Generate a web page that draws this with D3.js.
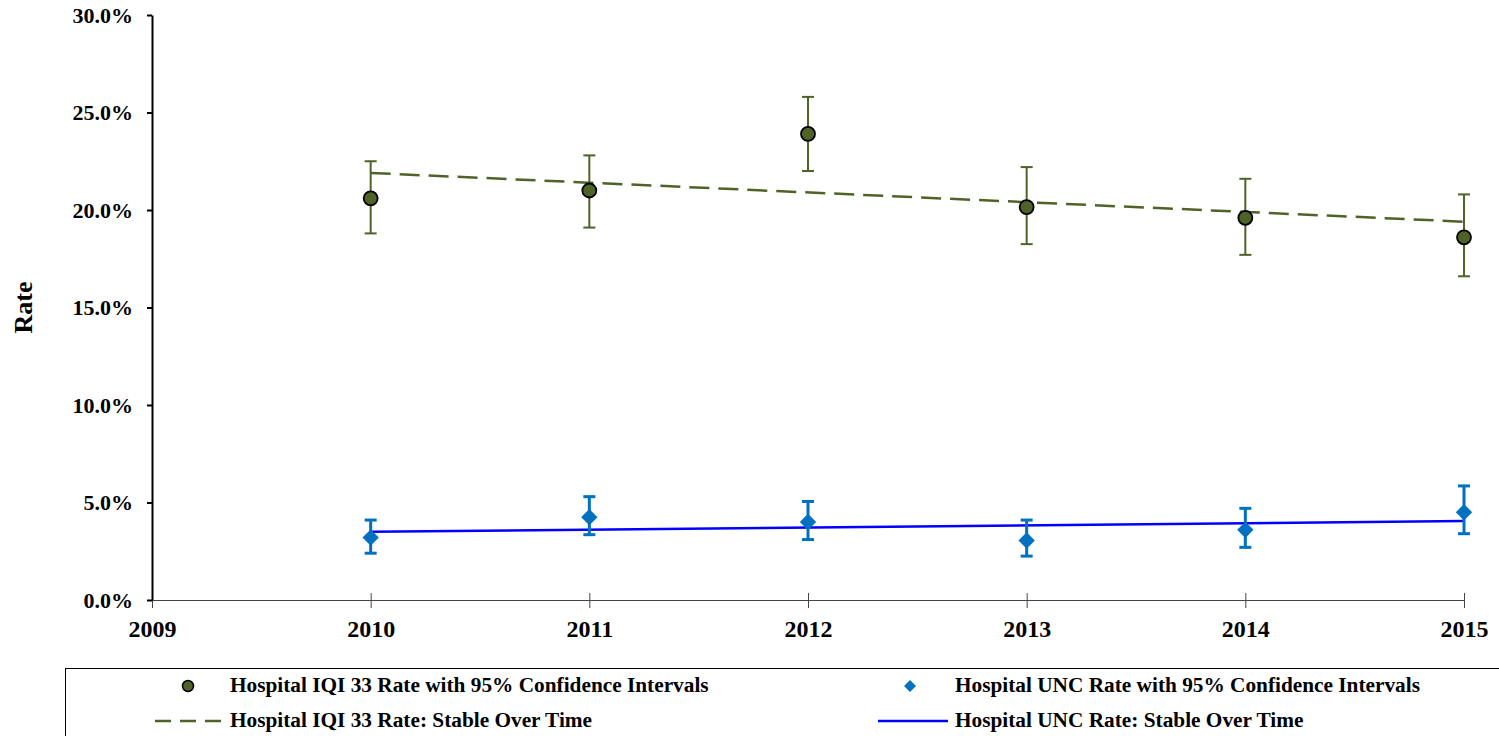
<!DOCTYPE html>
<html>
<head>
<meta charset="utf-8">
<script src="https://cdn.jsdelivr.net/npm/d3@7"></script>
<style>
body { margin: 0; background: #fff; }
text { font-family: "Liberation Serif", "Times New Roman", serif; font-weight: bold; }
</style>
</head>
<body>
<div id="chart"></div>
<script>
const years = [2010, 2011, 2012, 2013, 2014, 2015]
const iqiRate = [20.6, 21.0, 23.9, 20.15, 19.6, 18.6]
const iqiLower = [18.8, 19.1, 22.0, 18.25, 17.7, 16.6]
const iqiUpper = [22.5, 22.8, 25.8, 22.2, 21.6, 20.8]
const iqiTrend = [21.9, 19.4]
const uncRate = [3.2, 4.25, 4.0, 3.05, 3.6, 4.5]
const uncLower = [2.4, 3.35, 3.1, 2.25, 2.7, 3.4]
const uncUpper = [4.1, 5.3, 5.05, 4.1, 4.7, 5.85]
const uncTrend = [3.5, 4.05]
const yTicks = [0, 5, 10, 15, 20, 25, 30]
const xTicks = [2009, 2010, 2011, 2012, 2013, 2014, 2015]

const width = 1499
const height = 736
const margins = { top: 15, right: 35, bottom: 136, left: 152 }

const olive = "#4F6228"
const blue = "#0070C0"

const svg = d3.select("#chart").append("svg")
    .attr("width", width)
    .attr("height", height)

const x = d3.scaleLinear().domain([2009, 2015]).range([margins.left, width - margins.right])
const y = d3.scaleLinear().domain([0, 30]).range([height - margins.bottom, margins.top])

// x axis
const xAxis = svg.append("g")
    .attr("transform", `translate(0,${y(0)})`)
    .call(d3.axisBottom(x).tickValues(xTicks).tickFormat(d3.format("d")).tickSize(8).tickSizeOuter(0))
xAxis.select(".domain").attr("stroke", "#444").attr("stroke-width", 1.2)
xAxis.selectAll(".tick line").attr("stroke", "#444").attr("y1", -7).attr("y2", 8)
xAxis.selectAll(".tick text").attr("y", 20).style("font-size", "24px").attr("fill", "#000")

// y axis
const yAxis = svg.append("g")
    .attr("transform", `translate(${x(2009)},0)`)
    .call(d3.axisLeft(y).tickValues(yTicks).tickFormat(d => d.toFixed(1) + "%").tickSize(5).tickSizeOuter(0))
yAxis.select(".domain").attr("stroke", "#000").attr("stroke-width", 2)
yAxis.selectAll(".tick line").attr("stroke", "#000").attr("stroke-width", 2)
yAxis.selectAll(".tick text").attr("x", -19).style("font-size", "22px").attr("fill", "#000")

svg.append("text")
    .text("Rate")
    .attr("transform", `translate(32,${(y(0) + y(30)) / 2}) rotate(-90)`)
    .attr("text-anchor", "middle")
    .style("font-size", "26px")

// trend lines
svg.append("line")
    .attr("x1", x(years[0])).attr("x2", x(years[years.length - 1]))
    .attr("y1", y(iqiTrend[0])).attr("y2", y(iqiTrend[1]))
    .attr("stroke", olive).attr("stroke-width", 2.5).attr("stroke-dasharray", "20,9")
svg.append("line")
    .attr("x1", x(years[0])).attr("x2", x(years[years.length - 1]))
    .attr("y1", y(uncTrend[0])).attr("y2", y(uncTrend[1]))
    .attr("stroke", "#0000FF").attr("stroke-width", 2.5)

function errorBars(lower, upper, color, sw, cap) {
    const g = svg.append("g").attr("stroke", color).attr("stroke-width", sw)
    years.forEach((yr, i) => {
        g.append("line").attr("x1", x(yr)).attr("x2", x(yr)).attr("y1", y(lower[i])).attr("y2", y(upper[i]))
        g.append("line").attr("x1", x(yr) - cap).attr("x2", x(yr) + cap).attr("y1", y(lower[i])).attr("y2", y(lower[i]))
        g.append("line").attr("x1", x(yr) - cap).attr("x2", x(yr) + cap).attr("y1", y(upper[i])).attr("y2", y(upper[i]))
    })
}
errorBars(iqiLower, iqiUpper, olive, 2, 6)
errorBars(uncLower, uncUpper, blue, 3, 6)

svg.selectAll(".iqi-point")
    .data(years)
    .enter()
    .append("circle")
    .attr("class", "iqi-point")
    .attr("cx", d => x(d))
    .attr("cy", (d, i) => y(iqiRate[i]))
    .attr("r", 7)
    .attr("fill", olive)
    .attr("stroke", "#000")
    .attr("stroke-width", 1.8)

const diamond = d3.symbol().type(d3.symbolDiamond2).size(170)
svg.selectAll(".unc-point")
    .data(years)
    .enter()
    .append("path")
    .attr("class", "unc-point")
    .attr("d", diamond)
    .attr("transform", (d, i) => `translate(${x(d)},${y(uncRate[i])})`)
    .attr("fill", blue)

// legend
svg.append("rect")
    .attr("x", 65.5).attr("y", 668.5)
    .attr("width", 1450).attr("height", 100)
    .attr("fill", "none").attr("stroke", "#000").attr("stroke-width", 1)

const legend = svg.append("g").style("font-size", "21.3px")
legend.append("circle").attr("cx", 188).attr("cy", 686).attr("r", 5.5).attr("fill", olive).attr("stroke", "#000").attr("stroke-width", 1.5)
legend.append("text").text("Hospital IQI 33 Rate with 95% Confidence Intervals").attr("x", 230).attr("y", 692)
legend.append("line").attr("x1", 155).attr("x2", 226).attr("y1", 721).attr("y2", 721)
    .attr("stroke", olive).attr("stroke-width", 2.5).attr("stroke-dasharray", "16,9")
legend.append("text").text("Hospital IQI 33 Rate: Stable Over Time").attr("x", 230).attr("y", 727)

legend.append("path").attr("d", d3.symbol().type(d3.symbolDiamond2).size(90))
    .attr("transform", "translate(910,686)").attr("fill", blue)
legend.append("text").text("Hospital UNC Rate with 95% Confidence Intervals").attr("x", 955).attr("y", 692)
legend.append("line").attr("x1", 878).attr("x2", 948).attr("y1", 721).attr("y2", 721)
    .attr("stroke", "#0000FF").attr("stroke-width", 2.5)
legend.append("text").text("Hospital UNC Rate: Stable Over Time").attr("x", 955).attr("y", 727)
</script>
</body>
</html>
